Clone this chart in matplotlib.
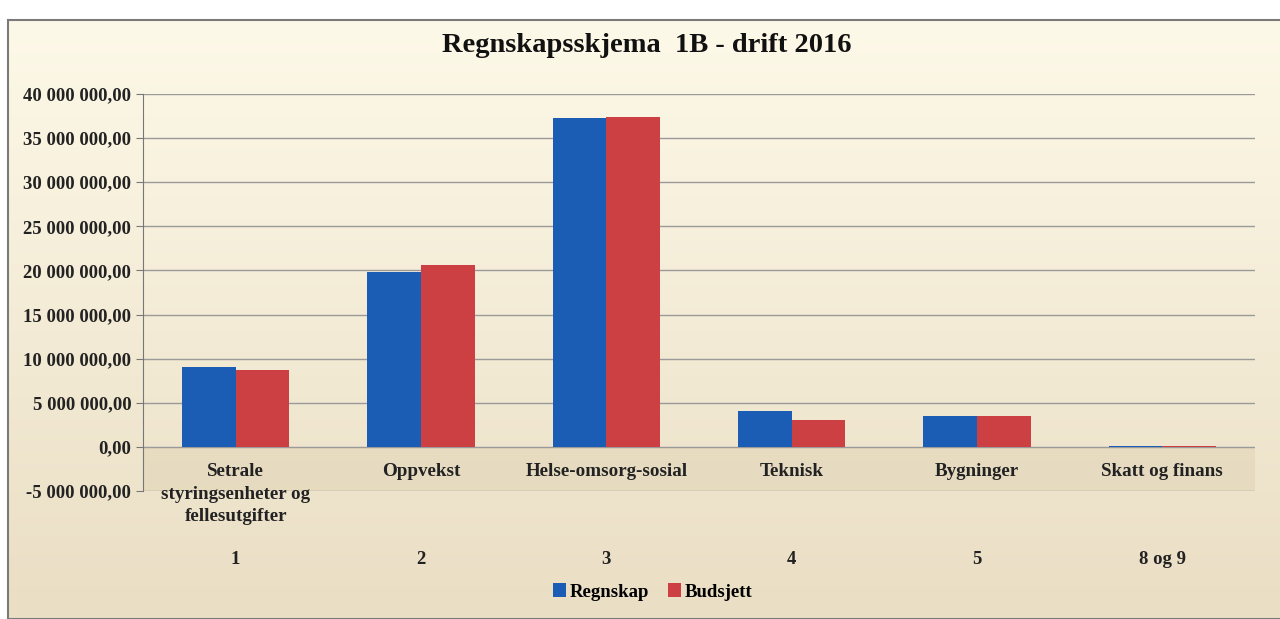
import numpy as np
import matplotlib.pyplot as plt
from matplotlib.patches import Rectangle

# data
categories = ["Setrale\nstyringsenheter og\nfellesutgifter", "Oppvekst", "Helse-omsorg-sosial",
              "Teknisk", "Bygninger", "Skatt og finans"]
numbers = ["1", "2", "3", "4", "5", "8 og 9"]
regnskap = [9000000, 19800000, 37300000, 4100000, 3500000, 150000]
budsjett = [8700000, 20600000, 37400000, 3100000, 3500000, 150000]
yticks = [-5000000, 0, 5000000, 10000000, 15000000, 20000000, 25000000, 30000000, 35000000, 40000000]

serif = ["Liberation Serif", "DejaVu Serif"]
plt.rcParams['font.family'] = serif

fig = plt.figure(figsize=(12.8, 6.19), dpi=100)

# background frame with a light gradient
bg = fig.add_axes([0, 0, 1, 1], zorder=-10)
bg.set_xlim(0, 1)
bg.set_ylim(0, 1)
bg.axis('off')
grad = np.linspace(0, 1, 256).reshape(-1, 1)
c_top = np.array([253, 249, 232]) / 255
c_bot = np.array([234, 222, 196]) / 255
img = c_bot + (c_top - c_bot) * grad
bg.imshow(img.reshape(256, 1, 3), extent=[8 / 1280, 1, 0, 1 - 20 / 619], aspect='auto', origin='lower')
bg.add_patch(Rectangle((8 / 1280, 0), 1, 1 - 20 / 619, fill=False, edgecolor='#7a7a7a', lw=1.5))

ax = fig.add_axes([143 / 1280, 1 - 491 / 619, (1255 - 143) / 1280, (491 - 94) / 619])
ax.patch.set_alpha(0)

x = np.arange(len(categories))
w = 0.29
ax.bar(x - w / 2, regnskap, w, color='#1b5cb4', label='Regnskap', zorder=3)
ax.bar(x + w / 2, budsjett, w, color='#cc3f43', label='Budsjett', zorder=3)

ax.set_xlim(-0.5, len(categories) - 0.5)
ax.set_ylim(-5000000, 40000000)
ax.axhspan(-5000000, 0, color='#e4d8bb', alpha=0.7, zorder=0)
ax.set_yticks(yticks)
ax.set_yticklabels([f"{v:,.2f}".replace(",", " ").replace(".", ",") for v in yticks],
                   fontsize=13.5, fontweight='bold', color='#222222')
ax.yaxis.grid(True, color='#9a9a9a', lw=1, zorder=1)
ax.tick_params(axis='y', length=5, color='#777777')

for xi, c in zip(x, categories):
    ax.text(xi, -1800000, c, ha='center', va='top', fontsize=13.7, fontweight='bold',
            color='#222222', linespacing=1.45)

ax.set_xticks(x)
ax.set_xticklabels(numbers, fontsize=13.5, fontweight='bold', color='#222222')
ax.tick_params(axis='x', length=0, pad=43)

for s in ['top', 'right', 'bottom']:
    ax.spines[s].set_visible(False)
ax.spines['left'].set_color('#777777')

fig.text(0.505, 1 - 46 / 619, "Regnskapsskjema  1B - drift 2016", ha='center', va='center',
         fontsize=20.5, fontweight='bold', color='#111111')

fig.legend(loc='center', bbox_to_anchor=(0.51, 1 - 592 / 619), ncol=2, frameon=False,
           prop={'weight': 'bold', 'size': 13.5, 'family': serif},
           handlelength=0.7, handleheight=0.7, handletextpad=0.2, columnspacing=1.0)

fig.savefig("out.png", dpi=100)
